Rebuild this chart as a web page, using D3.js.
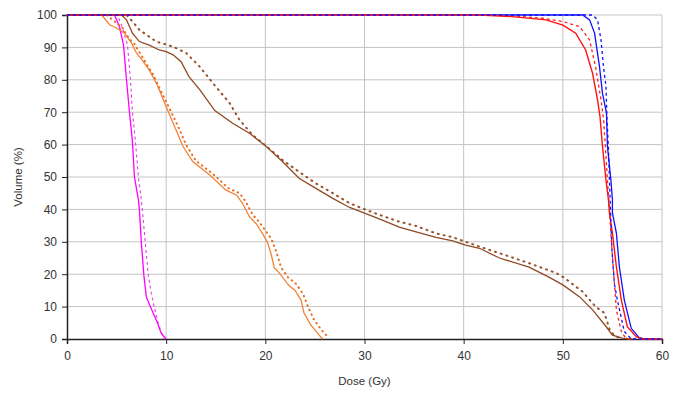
<!DOCTYPE html>
<html>
<head>
<meta charset="utf-8">
<script src="https://cdn.jsdelivr.net/npm/d3@7"></script>
<style>
  html, body { margin: 0; padding: 0; background: #fff; }
  svg { display: block; }
  text { font-family: "Liberation Sans", Arial, sans-serif; fill: #333; }
</style>
</head>
<body>
<svg id="chart" width="673" height="394"></svg>
<script>
// ---- Data (dose in Gy, volume in %) ----
const xTicks = [0, 10, 20, 30, 40, 50, 60];
const yTicks = [0, 10, 20, 30, 40, 50, 60, 70, 80, 90, 100];

const magentaSolid = [[0,100],[4.8,100],[5.3,96.3],[5.7,90.7],[6.0,80],[6.3,70],[6.6,61],[6.8,50],[7.2,43],[7.3,40],[7.5,29.6],[7.75,19.7],[8.0,13],[8.4,10],[9.0,5.9],[9.5,1.8],[9.9,0.3],[10,0]];
const magentaDashed = [[0,100],[5.1,100],[5.6,96],[6.1,90.7],[6.4,80],[6.6,70],[6.9,61],[7.2,50],[7.5,43],[7.9,29.6],[8.2,19.7],[8.5,14],[8.8,9.9],[9.1,6],[9.5,2],[9.8,0]];

const orangeSolid = [[0,100],[3.5,100],[4.3,97],[5.0,96],[5.3,95.4],[5.8,94.4],[6.5,91.4],[7.0,88.3],[7.6,86],[8.3,83],[9.0,79],[9.3,76.9],[10.0,71.7],[11.0,64.5],[11.7,59.4],[12.7,54.7],[14.4,50.6],[16.0,46],[17.1,44.4],[17.7,41.9],[18.4,37.7],[19.1,35.5],[19.7,32.6],[20.2,30],[20.6,26],[20.9,22],[21.4,20.4],[22.4,16.4],[23.0,15],[23.6,12],[23.9,8],[24.6,4.3],[25.6,0.6],[25.8,0]];
const orangeDotted = [[0,100],[4.0,100],[4.8,98],[5.6,96],[6.2,93],[6.8,91],[7.4,88],[8.0,85],[8.7,81.5],[9.4,77],[10.2,72],[11.3,65],[12.0,60],[13.0,55],[14.7,51],[16.3,46.5],[17.4,45],[18.0,42.5],[18.7,38.5],[19.4,36],[20.0,33.5],[20.6,31],[21.1,27],[21.6,22],[22.3,19],[23.1,17],[23.8,14],[24.3,10],[24.9,6],[25.6,3],[26.2,1]];

const brownSolid = [[0,100],[5.5,100],[6.0,98.5],[6.6,94.4],[7.3,91.8],[8.3,90.7],[9.3,89.2],[10.0,88.7],[10.7,87.7],[11.5,85.6],[12.3,81],[13.4,76.9],[14.9,70.5],[16.7,66.6],[18.4,63.5],[20.1,59.4],[21.75,54.7],[23.4,49.6],[25.1,46.5],[26.8,43.4],[28.5,40.6],[30.2,38.6],[31.8,36.7],[33.5,34.5],[35.2,33.1],[37.2,31.4],[38.9,30.3],[40.2,29],[41.6,28],[43.6,25],[46.6,22.2],[48.6,19.1],[50,16.7],[51.7,13],[53,9],[54.4,3.7],[55,1.2],[56,0.3],[57,0]];
const brownDotted = [[0,100],[6.0,100],[6.6,98],[7.3,95.4],[9.0,91.8],[10.7,90.2],[12.0,88.3],[13.4,84],[14.7,79],[16.4,72.8],[17.4,67.6],[18.7,63],[20.1,59.5],[21.75,55.2],[23.4,51.6],[25.1,48],[26.8,45],[28.5,41.9],[30.2,39.8],[31.8,38],[33.5,36.2],[35.2,34.9],[37.2,32.6],[38.9,31.4],[41.6,28.5],[43.6,26.5],[46.6,23.4],[49.3,20.4],[50,19.2],[52,14.6],[53.3,10],[54.2,8],[54.7,3.1],[55.2,1],[56,0]];

const redSolid = [[0,100],[41.6,100],[44.9,99.5],[48.3,98.5],[50,96.9],[51.3,94.4],[52.3,89.2],[53,82],[53.5,73.8],[53.75,68.6],[54.0,59.4],[54.35,49],[54.6,43],[54.7,38.9],[55.0,32.7],[55.4,22.3],[55.9,12],[56.5,3.8],[57.4,0.7],[58,0],[60,0]];
const redDashed = [[0,100],[44,100],[48,99],[50,98],[51.7,96.4],[52.7,92.3],[53.3,84],[53.85,73.8],[54.1,68],[54.3,59],[54.5,49],[54.7,40],[54.9,30],[55.2,17.2],[55.4,9],[55.9,2.3],[56.4,0],[60,0]];
const blueSolid = [[0,100],[52,100],[52.7,98.5],[53.2,94.4],[53.7,84],[54.0,75.8],[54.4,69.7],[54.5,59.4],[54.85,49],[55.0,43],[55.0,38.9],[55.4,32.7],[55.7,22.3],[56.2,12],[56.9,3.3],[57.7,0.4],[58.2,0],[60,0]];
const blueDashed = [[0,100],[53.0,100],[53.5,98.5],[53.85,92.3],[54.1,84],[54.35,78],[54.45,68],[54.6,59],[54.7,49],[54.8,40],[54.95,27.5],[55.2,17],[55.5,12],[56.2,2.3],[56.9,0],[60,0]];

const seriesList = [
  { data: magentaDashed, color: "#e040e0", width: 1.1, dash: "3,3" },
  { data: magentaSolid,  color: "#ff00ff", width: 1.3, dash: null },
  { data: orangeSolid,   color: "#f08438", width: 1.3, dash: null },
  { data: orangeDotted,  color: "#ec6a1c", width: 2.0, dash: "0.5,4.5" },
  { data: brownSolid,    color: "#8f4a22", width: 1.3, dash: null },
  { data: brownDotted,   color: "#96502a", width: 2.0, dash: "1,5" },
  { data: blueSolid,     color: "#1010ff", width: 1.3, dash: null },
  { data: redDashed,     color: "#ff2020", width: 1.3, dash: "3,3" },
  { data: redSolid,      color: "#ff1010", width: 1.4, dash: null },
  { data: blueDashed,    color: "#1010ff", width: 1.3, dash: "3,3" }
];

// ---- Layout ----
const svg = d3.select("#chart");
const mLeft = 67, mRight = 662, mTop = 15, mBottom = 339;
const x = d3.scaleLinear().domain([0, 60]).range([mLeft, mRight]);
const y = d3.scaleLinear().domain([0, 100]).range([mBottom, mTop]);

// gridlines
svg.append("g").selectAll("line").data(xTicks.slice(1)).join("line")
  .attr("x1", d => x(d)).attr("x2", d => x(d)).attr("y1", mTop).attr("y2", mBottom)
  .attr("stroke", "#c4c4c4").attr("stroke-width", 1);
svg.append("g").selectAll("line").data(yTicks.slice(1)).join("line")
  .attr("x1", mLeft).attr("x2", mRight).attr("y1", d => y(d)).attr("y2", d => y(d))
  .attr("stroke", "#c4c4c4").attr("stroke-width", 1);

// axes
const xAxis = d3.axisBottom(x).tickValues(xTicks).tickSize(5).tickPadding(7).tickFormat(d3.format("d"));
const yAxis = d3.axisLeft(y).tickValues(yTicks).tickSize(5).tickPadding(5).tickFormat(d3.format("d"));
const gx = svg.append("g").attr("transform", `translate(0,${mBottom})`).call(xAxis);
const gy = svg.append("g").attr("transform", `translate(${mLeft},0)`).call(yAxis);
[gx, gy].forEach(g => {
  g.select(".domain").attr("stroke", "#222").attr("stroke-width", 1.5);
  g.selectAll(".tick line").attr("stroke", "#222").attr("stroke-width", 1);
  g.selectAll(".tick text").attr("font-size", 12).attr("fill", "#333")
    .attr("font-family", "'Liberation Sans', Arial, sans-serif");
});

// lines
const line = d3.line().x(d => x(d[0])).y(d => y(d[1]));
svg.append("g").selectAll("path").data(seriesList).join("path")
  .attr("d", s => line(s.data))
  .attr("fill", "none")
  .attr("stroke", s => s.color)
  .attr("stroke-width", s => s.width)
  .attr("stroke-dasharray", s => s.dash)
  .attr("stroke-linecap", s => s.dash && s.width >= 2 ? "round" : "butt");

// labels
svg.append("text").attr("x", (mLeft + mRight) / 2).attr("y", 385)
  .attr("text-anchor", "middle").attr("font-size", 11.5).text("Dose (Gy)");
svg.append("text").attr("transform", `translate(22,${(mTop + mBottom) / 2}) rotate(-90)`)
  .attr("text-anchor", "middle").attr("font-size", 11.5).text("Volume (%)");
</script>
</body>
</html>
